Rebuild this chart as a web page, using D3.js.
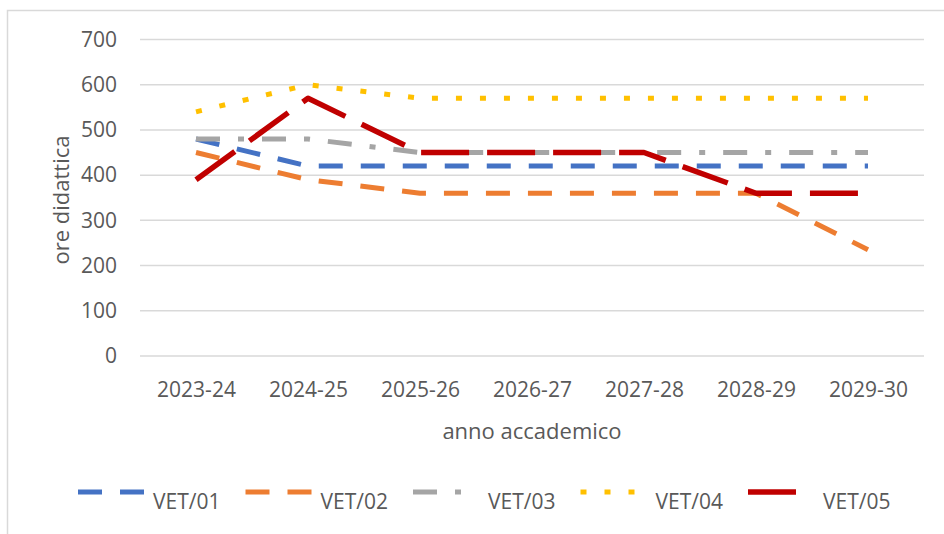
<!DOCTYPE html>
<html>
<head>
<meta charset="utf-8">
<script src="https://cdn.jsdelivr.net/npm/d3@7"></script>
<style>
  body { margin: 0; background: #fff; }
  text { font-family: "Open Sans", sans-serif; fill: #595959; }
</style>
</head>
<body>
<div id="chart-area"></div>
<script>
// anni accademici e valori
let years = ["2023-24", "2024-25", "2025-26", "2026-27", "2027-28", "2028-29", "2029-30"];
let vet01 = [480, 420, 420, 420, 420, 420, 420];
let vet02 = [450, 390, 360, 360, 360, 360, 235];
let vet03 = [480, 480, 450, 450, 450, 450, 450];
let vet04 = [540, 600, 570, 570, 570, 570, 570];
let vet05 = [390, 570, 450, 450, 450, 360, 360];
let seriesNames = ["VET/01", "VET/02", "VET/03", "VET/04", "VET/05"];
let yTicks = [0, 100, 200, 300, 400, 500, 600, 700];

let series = [
    {name: seriesNames[0], values: vet01, color: "#4472c4", dash: "24,18", w: 5},
    {name: seriesNames[1], values: vet02, color: "#ed7d31", dash: "24,18", w: 5},
    {name: seriesNames[2], values: vet03, color: "#a5a5a5", dash: "24,18,6,18", w: 5},
    {name: seriesNames[3], values: vet04, color: "#ffc000", dash: "6,18", w: 5},
    {name: seriesNames[4], values: vet05, color: "#c00000", dash: "48,18", w: 5.5}
];

let svg = d3.select("#chart-area")
            .append("svg")
            .attr("width", 944)
            .attr("height", 534);

// cornice
svg.append("path")
   .attr("d", "M7.5,534 V10.5 H944")
   .attr("fill", "none")
   .attr("stroke", "#d9d9d9")
   .attr("stroke-width", 1.5);

let x = d3.scalePoint()
          .domain(years)
          .range([140, 924])
          .padding(0.5);

let y = d3.scaleLinear()
          .domain([0, 700])
          .range([356, 39.5]);

// griglia
svg.selectAll(".grid")
   .data(yTicks)
   .enter()
   .append("line")
   .attr("x1", 140)
   .attr("x2", 924)
   .attr("y1", d => y(d))
   .attr("y2", d => y(d))
   .attr("stroke", "#d9d9d9")
   .attr("stroke-width", 1.5);

// etichette asse y
let yAxis = d3.axisLeft(y).tickValues(yTicks).tickSize(0).tickPadding(0);
let gy = svg.append("g").attr("transform", "translate(117,0)").call(yAxis);
gy.select(".domain").remove();
gy.selectAll("text")
  .style("font-family", "Open Sans")
  .style("font-size", "21px")
  .attr("fill", "#595959");

// etichette asse x
let xAxis = d3.axisBottom(x).tickSize(0).tickPadding(0);
let gx = svg.append("g").attr("transform", "translate(0,382)").call(xAxis);
gx.select(".domain").remove();
gx.selectAll("text")
  .style("font-family", "Open Sans")
  .style("font-size", "21px")
  .attr("fill", "#595959");

// titoli assi
svg.append("text")
   .attr("x", 532)
   .attr("y", 439)
   .attr("text-anchor", "middle")
   .style("font-size", "22px")
   .text("anno accademico");

svg.append("text")
   .attr("transform", "translate(69,200) rotate(-90)")
   .attr("text-anchor", "middle")
   .style("font-size", "22px")
   .text("ore didattica");

// linee
let line = d3.line()
             .x((d, i) => x(years[i]))
             .y(d => y(d));

svg.selectAll(".serie")
   .data(series)
   .enter()
   .append("path")
   .attr("d", d => line(d.values))
   .attr("fill", "none")
   .attr("stroke", d => d.color)
   .attr("stroke-width", d => d.w)
   .attr("stroke-dasharray", d => d.dash)
   .attr("stroke-linejoin", "round");

// legenda
let legend = svg.selectAll(".legend")
                .data(series)
                .enter()
                .append("g")
                .attr("transform", (d, i) => "translate(" + (78 + i * 167.5) + ",492)");

legend.append("line")
      .attr("x1", 0)
      .attr("x2", 66)
      .attr("stroke", d => d.color)
      .attr("stroke-width", d => d.w)
      .attr("stroke-dasharray", d => d.dash);

legend.append("text")
      .attr("x", 75)
      .attr("y", 17)
      .style("font-size", "21px")
      .text(d => d.name);
</script>
</body>
</html>
